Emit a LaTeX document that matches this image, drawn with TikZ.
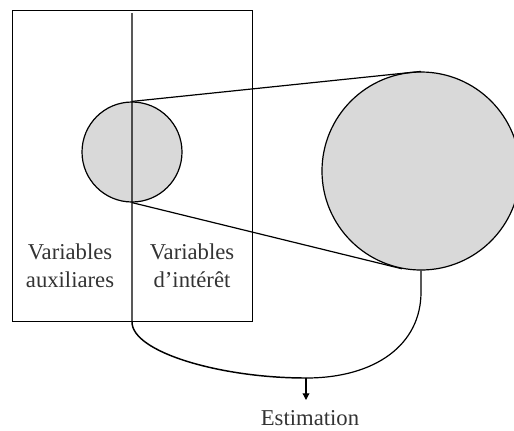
\documentclass[tikz,border=0pt]{standalone}
\usepackage{fontspec}
\setmainfont{Liberation Serif}
\usetikzlibrary{arrows.meta,positioning,calc}
\definecolor{pop}{HTML}{D9D9D9}
\begin{document}
\begin{tikzpicture}[x=0.75pt,y=-0.75pt,
  ln/.style={line width=0.9pt,black},
  disc/.style={circle,draw,line width=0.9pt,fill=pop,inner sep=0pt},
  lab/.style={font=\fontsize{17}{21}\selectfont,align=center,text=black!80},
  ar/.style={-{Triangle[length=5pt,width=5pt]},line width=0.9pt}]
  \useasboundingbox (0,0) rectangle (514,430);
  \node[draw,ln,minimum width=240*0.75pt,minimum height=311*0.75pt,anchor=north west] (frame) at (12,10) {};
  \node[disc,minimum size=100*0.75pt] (small) at (132,152) {};
  \node[disc,minimum size=198*0.75pt] (big) at (421,171) {};
  \draw[ln] (small.north) -- (big.north);
  \draw[ln] (small.south) -- (big.259);
  \node[lab] (aux) at (70,266) {Variables\\auxiliares};
  \node[lab] (int) at (192,266) {Variables\\d’intérêt};
  \coordinate (axtop) at (132,13);
  \coordinate (merge) at (306,378);
  \draw[ln,line width=1.1pt] (axtop) -- (132,322) .. controls (132,352) and (220,378) .. (merge);
  \draw[ln] (big.south) -- (421,292) .. controls (421,345) and (375,378) .. (merge);
  \node[lab] (est) at (310,418) {Estimation};
  \draw[ar] (merge) -- (306,400);
\end{tikzpicture}
\end{document}
